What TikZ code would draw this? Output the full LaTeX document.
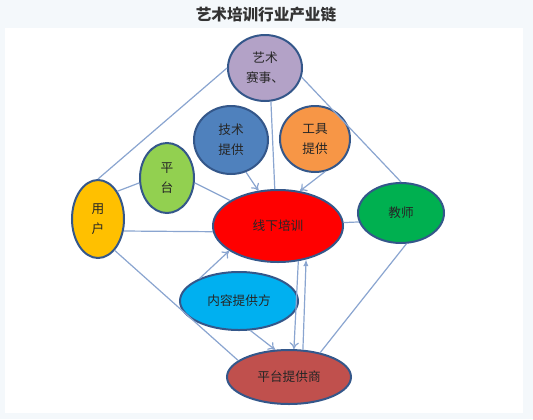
\documentclass[tikz,border=0pt]{standalone}
\usepackage{fontspec}
\usepackage{xcolor}
\usetikzlibrary{shapes.geometric,arrows.meta}
\newfontfamily\cjk{Noto Sans CJK SC}

\definecolor{pagebg}{HTML}{F4F8FB}
\definecolor{rimblue}{HTML}{34578A}
\definecolor{linkblue}{HTML}{8AA5D0}
\definecolor{artcol}{HTML}{B3A2C7}
\definecolor{techcol}{HTML}{4F81BD}
\definecolor{toolcol}{HTML}{F79646}
\definecolor{platcol}{HTML}{92D050}
\definecolor{usercol}{HTML}{FFC000}
\definecolor{offcol}{HTML}{FF0000}
\definecolor{teachcol}{HTML}{00B050}
\definecolor{contcol}{HTML}{00B0F0}
\definecolor{provcol}{HTML}{C0504D}

\begin{document}
\begin{tikzpicture}[
    x=0.75pt, y=-0.75pt,
    blob/.style={ellipse, draw=rimblue, line width=1.5pt, inner sep=0pt, align=center,
                 font=\cjk\fontsize{9.5}{15}\selectfont, text=black!85},
    link/.style={draw=linkblue, line width=0.9pt},
    arrow/.style={link, -{To[length=5pt,width=7pt]}},
    uparrow/.style={link, -{Latex[length=5pt,width=4pt]}}
]
    % backdrop
    \fill[pagebg] (0,0) rectangle (533,419);
    \fill[white] (5,28) rectangle (523,413);
    \useasboundingbox (0,0) rectangle (533,419);
    \node[font=\cjk\bfseries\fontsize{11.7}{14}\selectfont, text=black!80] (title) at (266,15) {艺术培训行业产业链};

    \node[blob, fill=artcol, minimum width=55.5pt, minimum height=49.5pt] (art) at (265,68) {艺术\\赛事、};
    \node[blob, fill=techcol, minimum width=55.5pt, minimum height=51pt] (tech) at (231,140) {技术\\提供};
    \node[blob, fill=toolcol, minimum width=52.5pt, minimum height=49.5pt] (tool) at (315,139) {工具\\提供};
    \node[blob, fill=platcol, minimum width=40.5pt, minimum height=52.5pt] (plat) at (167,178) {平\\台};
    \node[blob, fill=usercol, minimum width=39pt, minimum height=58.5pt] (user) at (98,219) {用\\户};
    \node[blob, fill=offcol, minimum width=97.5pt, minimum height=54pt] (offline) at (278,226) {线下培训};
    \node[blob, fill=teachcol, minimum width=64.5pt, minimum height=45pt] (teacher) at (401,213) {教师};
    \node[blob, fill=contcol, minimum width=88.5pt, minimum height=43.5pt] (content) at (239,301) {内容提供方};
    \node[blob, fill=provcol, minimum width=93pt, minimum height=40.5pt] (provider) at (289,377) {平台提供商};

    \draw[link] (user.north) -- (art.west);
    \draw[link] (art.-14) -- (teacher.north);
    \draw[link] (art.-80) -- (offline.95);
    \draw[arrow] (tech.-65) -- (offline.119);
    \draw[arrow] (tool.-73) -- (offline.58);
    \draw[link] (user.55) -- (plat.190);
    \draw[link] (plat.-10) -- (offline.152);
    \draw[link] (user.-25) -- (offline.185);
    \draw[link] (offline.3) -- (teacher.192);
    \draw[arrow] (content.150) -- (offline.207);
    \draw[arrow] (content.-69) -- (provider.117);
    \draw[arrow] (offline.-60) -- (provider.80);
    \draw[uparrow] (provider.63) -- (offline.-50);
    \draw[link] (user.-62) -- (provider.162);
    \draw[link] (teacher.-80) -- (provider.38);
\end{tikzpicture}
\end{document}
